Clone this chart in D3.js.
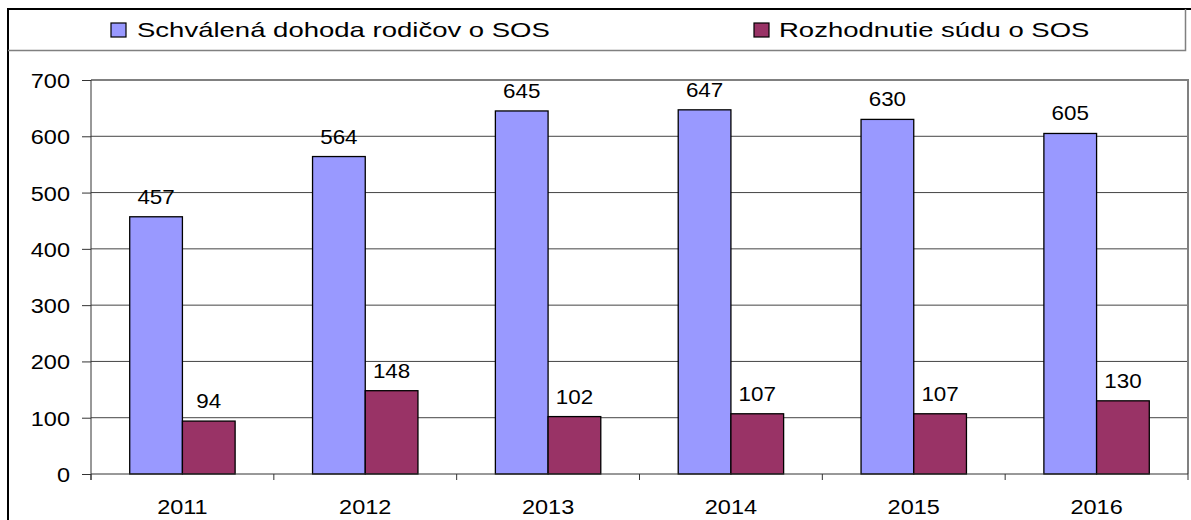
<!DOCTYPE html>
<html>
<head>
<meta charset="utf-8">
<script src="https://cdn.jsdelivr.net/npm/d3@7"></script>
<style>
  body { margin: 0; background: #fff; }
  text { font-family: "Liberation Sans", Arial, sans-serif; fill: #000; }
</style>
</head>
<body>
<svg id="chart" width="1191" height="520"></svg>
<script>
// chart data
const years = ['2011', '2012', '2013', '2014', '2015', '2016'];
const seriesNames = ['Schválená dohoda rodičov o SOS', 'Rozhodnutie súdu o SOS'];
const agreement = [457, 564, 645, 647, 630, 605];
const courtDecision = [94, 148, 102, 107, 107, 130];
const yTicks = [0, 100, 200, 300, 400, 500, 600, 700];
const colors = ['#9999FF', '#993366'];

const svg = d3.select("#chart");

// plot area bounds
const plotLeft = 91, plotRight = 1188, plotTop = 80, plotBottom = 474;
const sx = 1.12; // text in the original is stretched a bit horizontally

const x0 = d3.scaleBand().domain(years).range([plotLeft, plotRight])
    .paddingInner(0.4235).paddingOuter(0.21175);
const x1 = d3.scaleBand().domain(seriesNames).range([0, x0.bandwidth()]);
const y = d3.scaleLinear().domain([0, 700]).range([plotBottom, plotTop]);

// outer frame
svg.append("rect")
    .attr("x", 8).attr("y", 9).attr("width", 1200).attr("height", 530)
    .attr("fill", "none").attr("stroke", "#000").attr("stroke-width", 2);

// gridlines
svg.append("g").selectAll("line")
    .data(yTicks.filter(d => d > 0 && d < 700))
    .enter().append("line")
    .attr("x1", plotLeft).attr("x2", plotRight)
    .attr("y1", d => y(d)).attr("y2", d => y(d))
    .attr("stroke", "#444").attr("stroke-width", 1);

// plot area border (top + right, gray)
svg.append("path")
    .attr("d", `M${plotLeft},${y(700)}H${plotRight}V${plotBottom}`)
    .attr("fill", "none").attr("stroke", "#808080").attr("stroke-width", 2);

// bars
const rows = years.map((yr, i) => ({ year: yr, values: [agreement[i], courtDecision[i]] }));
const groups = svg.append("g").selectAll("g")
    .data(rows).enter().append("g")
    .attr("transform", d => `translate(${x0(d.year)},0)`);

groups.selectAll("rect")
    .data(d => d.values.map((v, j) => ({ name: seriesNames[j], value: v, j: j })))
    .enter().append("rect")
    .attr("x", d => x1(d.name))
    .attr("y", d => y(d.value))
    .attr("width", x1.bandwidth())
    .attr("height", d => y(0) - y(d.value))
    .attr("fill", d => colors[d.j])
    .attr("stroke", "#000").attr("stroke-width", 1.3);

// value labels
groups.selectAll("text")
    .data(d => d.values.map((v, j) => ({ name: seriesNames[j], value: v })))
    .enter().append("text")
    .attr("transform", d => `translate(${x1(d.name) + x1.bandwidth() / 2},${y(d.value) - 13}) scale(${sx},1)`)
    .attr("text-anchor", "middle")
    .style("font-size", "20px")
    .text(d => d.value);

// y axis
const yAxis = svg.append("g")
    .attr("transform", `translate(${plotLeft},0)`)
    .call(d3.axisLeft(y).tickValues(yTicks).tickSize(9).tickPadding(12).tickSizeOuter(0));
yAxis.select(".domain").attr("stroke", "#333").attr("d", `M0,${y(700)}V${plotBottom + 6}`);
yAxis.selectAll(".tick line").attr("stroke", "#333");
yAxis.selectAll(".tick text")
    .style("font-size", "21px")
    .attr("x", null).attr("dy", "0.36em")
    .attr("transform", `translate(-21,0) scale(${sx},1)`);

// x axis line and ticks at band edges
const step = x0.step();
svg.append("line")
    .attr("x1", plotLeft).attr("x2", plotRight).attr("y1", plotBottom).attr("y2", plotBottom)
    .attr("stroke", "#333").attr("stroke-width", 1);
svg.append("g").selectAll("line")
    .data(d3.range(years.length + 1))
    .enter().append("line")
    .attr("x1", i => plotLeft + i * step).attr("x2", i => plotLeft + i * step)
    .attr("y1", plotBottom).attr("y2", plotBottom + 6)
    .attr("stroke", "#333");
svg.append("g").selectAll("text")
    .data(years).enter().append("text")
    .attr("transform", d => `translate(${x0(d) + x0.bandwidth() / 2},${plotBottom + 40}) scale(${sx},1)`)
    .attr("text-anchor", "middle")
    .style("font-size", "21px")
    .text(d => d);

// legend box
svg.append("path")
    .attr("d", "M8,50.5H1185.5V9")
    .attr("fill", "none").attr("stroke", "#808080").attr("stroke-width", 1.5);

const legendPos = [{ sq: 111, tx: 137 }, { sq: 754, tx: 779 }];
seriesNames.forEach((name, i) => {
    svg.append("rect")
        .attr("x", legendPos[i].sq).attr("y", 23)
        .attr("width", 15).attr("height", 14)
        .attr("fill", colors[i]).attr("stroke", "#000").attr("stroke-width", 1.2);
    svg.append("text")
        .attr("transform", `translate(${legendPos[i].tx},37.3) scale(1.31,1)`)
        .style("font-size", "21px")
        .text(name);
});
</script>
</body>
</html>
